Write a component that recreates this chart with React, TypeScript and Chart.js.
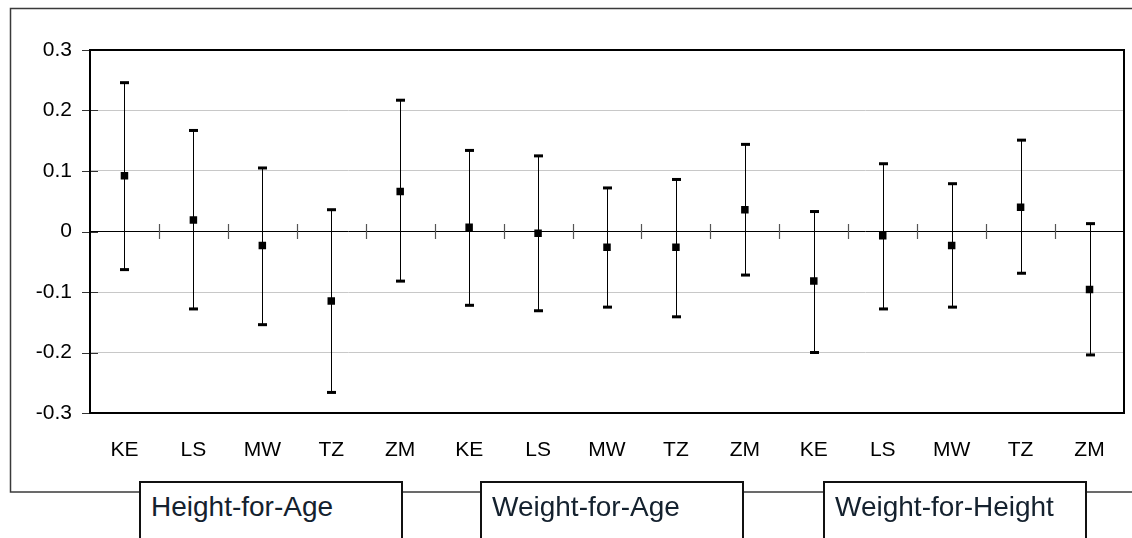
import React, { useEffect, useRef } from 'react';
import { Chart, registerables } from 'chart.js';

Chart.register(...registerables);

const countries = ['KE', 'LS', 'MW', 'TZ', 'ZM'];
const groups = ['Height-for-Age', 'Weight-for-Age', 'Weight-for-Height'];
const categories = groups.flatMap(() => countries);

const hfaMean = [0.092, 0.019, -0.023, -0.115, 0.066];
const hfaLow = [-0.063, -0.128, -0.154, -0.266, -0.082];
const hfaHigh = [0.246, 0.167, 0.105, 0.036, 0.217];

const wfaMean = [0.007, -0.003, -0.026, -0.026, 0.036];
const wfaLow = [-0.122, -0.131, -0.125, -0.141, -0.072];
const wfaHigh = [0.134, 0.125, 0.072, 0.086, 0.144];

const wfhMean = [-0.082, -0.007, -0.023, 0.04, -0.096];
const wfhLow = [-0.2, -0.128, -0.125, -0.069, -0.204];
const wfhHigh = [0.033, 0.112, 0.079, 0.151, 0.013];

const means = [...hfaMean, ...wfaMean, ...wfhMean];
const lows = [...hfaLow, ...wfaLow, ...wfhLow];
const highs = [...hfaHigh, ...wfaHigh, ...wfhHigh];

const yTickValues = [-0.3, -0.2, -0.1, 0, 0.1, 0.2, 0.3];
const yTickLabels = ['-0.3', '-0.2', '-0.1', '0', '0.1', '0.2', '0.3'];

const FONT = "'Liberation Sans', Arial, sans-serif";

const decorPlugin = {
  id: 'decor',
  beforeDraw(chart: any) {
    const ctx = chart.ctx;
    ctx.save();
    ctx.fillStyle = '#ffffff';
    ctx.fillRect(0, 0, chart.width, chart.height);
    ctx.strokeStyle = '#3a3a3a';
    ctx.lineWidth = 1.5;
    ctx.strokeRect(10.5, 8.5, 1200, 483.5);
    ctx.restore();
  },
  beforeDatasetsDraw(chart: any) {
    const { ctx, chartArea: a, scales } = chart;
    const x = scales.x;
    const y = scales.y;
    ctx.save();
    // y-axis tick marks
    ctx.strokeStyle = '#333';
    ctx.lineWidth = 1;
    yTickValues.forEach((v) => {
      const py = Math.round(y.getPixelForValue(v)) + 0.5;
      ctx.beginPath();
      ctx.moveTo(a.left - 8, py);
      ctx.lineTo(a.left + 8, py);
      ctx.stroke();
    });
    // category boundary ticks on the zero line
    const zy = y.getPixelForValue(0);
    ctx.strokeStyle = '#555';
    ctx.lineWidth = 1.2;
    for (let i = 0; i < categories.length - 1; i++) {
      const px = Math.round((x.getPixelForValue(i) + x.getPixelForValue(i + 1)) / 2) + 0.5;
      ctx.beginPath();
      ctx.moveTo(px, zy - 7.5);
      ctx.lineTo(px, zy + 7.5);
      ctx.stroke();
    }
    // error bars
    ctx.strokeStyle = '#000';
    ctx.fillStyle = '#000';
    ctx.lineWidth = 1;
    for (let i = 0; i < categories.length; i++) {
      const px = Math.round(x.getPixelForValue(i)) + 0.5;
      const yh = y.getPixelForValue(highs[i]);
      const yl = y.getPixelForValue(lows[i]);
      ctx.beginPath();
      ctx.moveTo(px, yh);
      ctx.lineTo(px, yl);
      ctx.stroke();
      ctx.fillRect(px - 4.5, yh - 1.5, 9, 3);
      ctx.fillRect(px - 4.5, yl - 1.5, 9, 3);
    }
    // plot area border
    ctx.strokeStyle = '#000';
    ctx.lineWidth = 2;
    ctx.strokeRect(a.left, a.top, a.right - a.left, a.bottom - a.top);
    ctx.restore();
  },
};

const boxes = [
  { label: groups[0], left: 139 },
  { label: groups[1], left: 480 },
  { label: groups[2], left: 823 },
];

export default function App() {
  const canvasRef = useRef<HTMLCanvasElement | null>(null);

  useEffect(() => {
    if (!canvasRef.current) return;
    const chart = new Chart(canvasRef.current, {
      type: 'line',
      data: {
        labels: categories,
        datasets: [
          {
            data: means,
            showLine: false,
            pointStyle: 'rect',
            pointRadius: 5.3,
            pointHoverRadius: 5.3,
            pointBackgroundColor: '#000',
            pointBorderWidth: 0,
            borderColor: '#000',
          },
        ],
      },
      options: {
        animation: false,
        responsive: false,
        events: [],
        layout: { padding: { top: 50, left: 0, right: 8, bottom: 0 } },
        plugins: { legend: { display: false }, tooltip: { enabled: false } },
        scales: {
          x: {
            type: 'category',
            offset: true,
            grid: { display: false },
            border: { display: false },
            afterFit: (s: any) => {
              s.height = 125;
            },
            ticks: {
              autoSkip: false,
              maxRotation: 0,
              padding: 17,
              color: '#000',
              font: { family: FONT, size: 21 },
            },
          },
          y: {
            min: -0.3,
            max: 0.3,
            afterFit: (s: any) => {
              s.width = 90;
            },
            afterBuildTicks: (s: any) => {
              s.ticks = yTickValues.map((v) => ({ value: v }));
            },
            grid: {
              drawTicks: false,
              lineWidth: 1,
              color: (c: any) => (c.tick && Math.abs(c.tick.value) < 1e-9 ? '#000' : '#c8c8c8'),
            },
            border: { display: false },
            ticks: {
              padding: 18,
              color: '#000',
              font: { family: FONT, size: 21 },
              callback: (_v: any, i: number) => yTickLabels[i],
            },
          },
        },
      },
      plugins: [decorPlugin],
    });
    return () => chart.destroy();
  }, []);

  return (
    <div
      style={{
        position: 'absolute',
        left: 0,
        top: 0,
        width: 1132,
        height: 538,
        overflow: 'hidden',
        background: '#fff',
      }}
    >
      <canvas ref={canvasRef} width={1132} height={538} style={{ display: 'block' }} />
      {boxes.map((b) => (
        <div
          key={b.label}
          style={{
            position: 'absolute',
            left: b.left,
            top: 481,
            width: 264,
            height: 80,
            boxSizing: 'border-box',
            border: '2px solid #111',
            background: '#fff',
            paddingLeft: 10,
            paddingTop: 10,
            fontFamily: FONT,
            fontSize: 28,
            lineHeight: '28px',
            color: '#14212e',
            whiteSpace: 'nowrap',
          }}
        >
          {b.label}
        </div>
      ))}
    </div>
  );
}
